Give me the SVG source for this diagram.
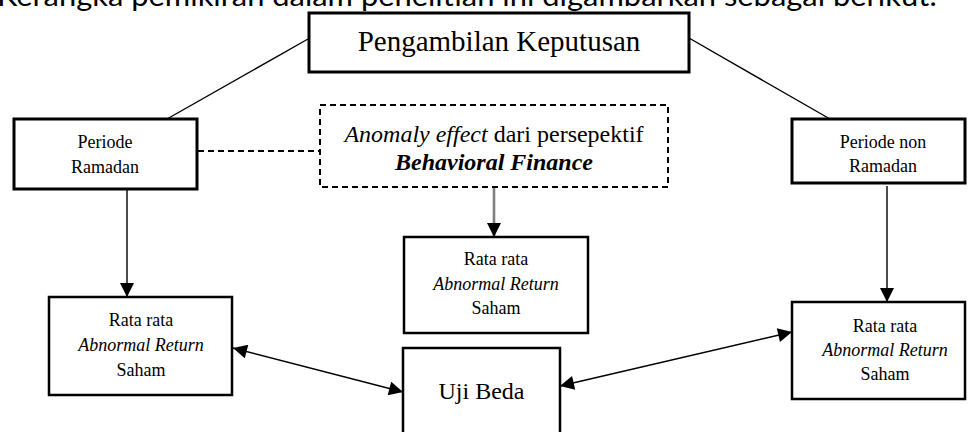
<svg xmlns="http://www.w3.org/2000/svg" width="968" height="432" viewBox="0 0 968 432">
<defs>
<style>
.box{fill:#fff;stroke:#000;stroke-width:2.5}
.thick{stroke-width:3}
.dash{fill:#fff;stroke:#000;stroke-width:2;stroke-dasharray:6 4}
.t{font-family:"Liberation Serif","Times New Roman",serif;fill:#000;text-anchor:middle}
.s18{font-size:18px}
.i{font-style:italic}
.b{font-weight:bold}
.ln{fill:none;stroke:#000;stroke-width:1.4}
.hdr{font-family:Lato,"Open Sans",sans-serif;font-size:28px;fill:#000}
</style>
<marker id="ahb" viewBox="0 0 10 10" refX="10" refY="5" markerWidth="15" markerHeight="14" markerUnits="userSpaceOnUse" orient="auto-start-reverse">
<path d="M0,0 L10,5 L0,10 Z" fill="#000"/>
</marker>
</defs>
<rect width="968" height="432" fill="#fff"/>
<text class="hdr" x="-3" y="6" textLength="940" lengthAdjust="spacingAndGlyphs">Kerangka pemikiran dalam penelitian ini digambarkan sebagai berikut:</text>

<g id="connectors">
<line class="ln" x1="167" y1="119" x2="308" y2="39"/>
<line class="ln" x1="689" y1="38" x2="830" y2="119"/>
<line x1="198" y1="151" x2="320" y2="151" stroke="#000" stroke-width="2.2" stroke-dasharray="6 4"/>
<line class="ln" x1="127" y1="190" x2="127" y2="297" marker-end="url(#ahb)"/>
<line class="ln" x1="887" y1="186" x2="887" y2="302" marker-end="url(#ahb)"/>
<line x1="494" y1="188" x2="494" y2="237" stroke="#808080" stroke-width="2.6" marker-end="url(#ahb)"/>
<line class="ln" x1="233" y1="348" x2="403" y2="392" marker-start="url(#ahb)" marker-end="url(#ahb)"/>
<line class="ln" x1="560" y1="386" x2="792" y2="332" marker-start="url(#ahb)" marker-end="url(#ahb)"/>
</g>

<g id="pengambilan">
<rect class="box thick" x="309" y="13" width="380" height="59"/>
<text class="t" x="499" y="51" font-size="29">Pengambilan Keputusan</text>
</g>

<g id="periode-ramadan">
<rect class="box thick" x="14" y="119" width="183" height="70"/>
<text class="t s18" x="105" y="148">Periode</text>
<text class="t s18" x="105" y="173">Ramadan</text>
</g>

<g id="anomaly">
<rect class="dash" x="320" y="105" width="348" height="82"/>
<text class="t" x="494" y="142" font-size="24"><tspan class="i">Anomaly effect</tspan> dari persepektif</text>
<text class="t i b" x="494" y="170" font-size="24">Behavioral Finance</text>
</g>

<g id="periode-non-ramadan">
<rect class="box thick" x="792" y="119" width="173" height="64"/>
<text class="t s18" x="883" y="148">Periode non</text>
<text class="t s18" x="883" y="172">Ramadan</text>
</g>

<g id="rata-left">
<rect class="box" x="49" y="297" width="183" height="98"/>
<text class="t s18" x="141" y="326">Rata rata</text>
<text class="t s18 i" x="141" y="351">Abnormal Return</text>
<text class="t s18" x="141" y="376">Saham</text>
</g>

<g id="rata-middle">
<rect class="box" x="404" y="237" width="184" height="96"/>
<text class="t s18" x="496" y="265">Rata rata</text>
<text class="t s18 i" x="496" y="290">Abnormal Return</text>
<text class="t s18" x="496" y="314">Saham</text>
</g>

<g id="rata-right">
<rect class="box" x="792" y="302" width="173" height="97"/>
<text class="t s18" x="885" y="332">Rata rata</text>
<text class="t s18 i" x="885" y="356">Abnormal Return</text>
<text class="t s18" x="885" y="380">Saham</text>
</g>

<g id="uji-beda">
<rect class="box" x="403" y="348" width="157" height="100"/>
<text class="t" x="481.5" y="399" font-size="24">Uji Beda</text>
</g>
</svg>
